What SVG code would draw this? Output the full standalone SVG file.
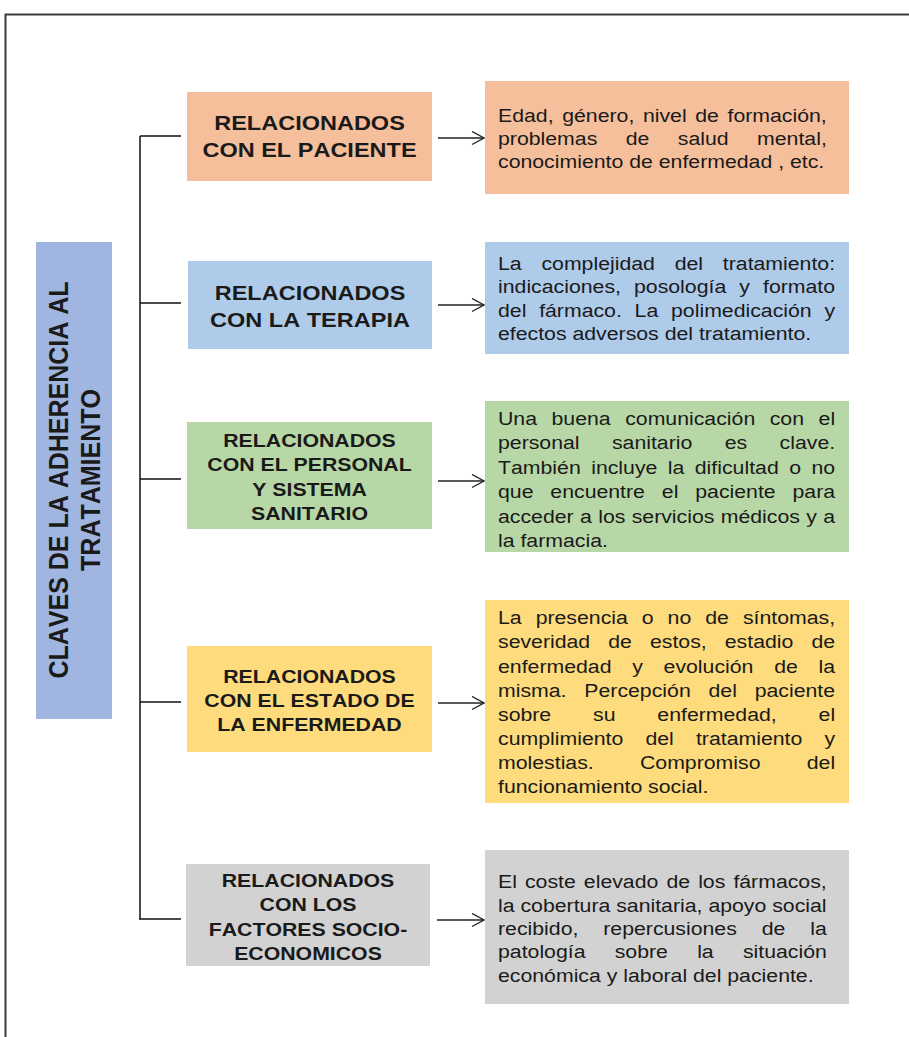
<svg xmlns="http://www.w3.org/2000/svg" width="909" height="1037" viewBox="0 0 909 1037">
<style>
text{font-family:"Liberation Sans",Arial,sans-serif;fill:#1a1a1a;font-kerning:none;font-variant-ligatures:none}
.title{font-size:25px;font-weight:bold;text-anchor:middle}
.h21{font-size:21px;font-weight:bold;text-anchor:middle}
.h19{font-size:19px;font-weight:bold;text-anchor:middle}
.body{font-size:19px}
.conn{fill:none;stroke:#111;stroke-width:1.5}
.arrow{fill:none;stroke:#222;stroke-width:1.4}
</style>
<defs>
<marker id="chev" markerUnits="userSpaceOnUse" markerWidth="16" markerHeight="16" refX="13" refY="7" orient="auto">
<path d="M1,0.5 L13,7 L1,13.5" fill="none" stroke="#222" stroke-width="1.4"/>
</marker>
</defs>
<rect width="909" height="1037" fill="#ffffff"/>
<path d="M5.5,1037 V14.5 H909" fill="none" stroke="#3a3a3a" stroke-width="2"/>

<g id="titulo">
<rect x="36" y="242" width="76" height="477" fill="#a0b6e0"/>
<g transform="translate(74,480) scale(1.12,1) rotate(-90)">
<text class="title"><tspan x="0" y="-5.4">CLAVES DE LA ADHERENCIA AL</tspan><tspan x="0" y="23.2">TRATAMIENTO</tspan></text>
</g>
</g>

<g id="conectores">
<path class="conn" d="M140,136 V919" stroke-width="2"/>
<path class="conn" d="M140,136 H181 M140,303 H181 M140,479 H181 M140,702 H181 M139,919 H181"/>
<path class="arrow" d="M438,138 H484" marker-end="url(#chev)"/>
<path class="arrow" d="M438,305 H484" marker-end="url(#chev)"/>
<path class="arrow" d="M438,481 H484" marker-end="url(#chev)"/>
<path class="arrow" d="M438,703 H484" marker-end="url(#chev)"/>
<path class="arrow" d="M437,920 H484" marker-end="url(#chev)"/>
</g>

<g id="paciente">
<rect x="187" y="92" width="245" height="89" fill="#f6bf9b"/>
<g transform="translate(309.5,0) scale(1.12,1)">
<text class="h21"><tspan x="0" y="130">RELACIONADOS</tspan><tspan x="0" y="157">CON EL PACIENTE</tspan></text>
</g>
</g>
<g id="detalle-paciente">
<rect x="485" y="81" width="364" height="113" fill="#f6bf9b"/>
<g transform="translate(498,0) scale(1.12,1)">
<text class="body"><tspan x="0" y="122" word-spacing="2.41">Edad, género, nivel de formación,</tspan><tspan x="0" y="145" word-spacing="20.12">problemas de salud mental,</tspan><tspan x="0" y="168">conocimiento de enfermedad , etc.</tspan></text>
</g>
</g>

<g id="terapia">
<rect x="188" y="261" width="244" height="88" fill="#aecbea"/>
<g transform="translate(310,0) scale(1.12,1)">
<text class="h21"><tspan x="0" y="300">RELACIONADOS</tspan><tspan x="0" y="327">CON LA TERAPIA</tspan></text>
</g>
</g>
<g id="detalle-terapia">
<rect x="485" y="242" width="364" height="112" fill="#aecbea"/>
<g transform="translate(498,0) scale(1.12,1)">
<text class="body"><tspan x="0" y="270" word-spacing="12.38">La complejidad del tratamiento:</tspan><tspan x="0" y="293.3" word-spacing="6.40">indicaciones, posología y formato</tspan><tspan x="0" y="316.7" word-spacing="6.12">del fármaco. La polimedicación y</tspan><tspan x="0" y="340">efectos adversos del tratamiento.</tspan></text>
</g>
</g>

<g id="personal">
<rect x="187" y="422" width="245" height="107" fill="#b8d7a6"/>
<g transform="translate(309.5,0) scale(1.12,1)">
<text class="h19"><tspan x="0" y="447">RELACIONADOS</tspan><tspan x="0" y="471.3">CON EL PERSONAL</tspan><tspan x="0" y="495.6">Y SISTEMA</tspan><tspan x="0" y="520">SANITARIO</tspan></text>
</g>
</g>
<g id="detalle-personal">
<rect x="485" y="401" width="364" height="151" fill="#b8d7a6"/>
<g transform="translate(498,0) scale(1.12,1)">
<text class="body"><tspan x="0" y="425" word-spacing="7.70">Una buena comunicación con el</tspan><tspan x="0" y="449.4" word-spacing="23.65">personal sanitario es clave.</tspan><tspan x="0" y="473.8" word-spacing="4.05">También incluye la dificultad o no</tspan><tspan x="0" y="498.2" word-spacing="9.80">que encuentre el paciente para</tspan><tspan x="0" y="522.6" word-spacing="0.39">acceder a los servicios médicos y a</tspan><tspan x="0" y="547">la farmacia.</tspan></text>
</g>
</g>

<g id="enfermedad">
<rect x="187" y="646" width="245" height="106" fill="#fedb7c"/>
<g transform="translate(309.5,0) scale(1.12,1)">
<text class="h19"><tspan x="0" y="682.7">RELACIONADOS</tspan><tspan x="0" y="706.7">CON EL ESTADO DE</tspan><tspan x="0" y="730.7">LA ENFERMEDAD</tspan></text>
</g>
</g>
<g id="detalle-enfermedad">
<rect x="485" y="600" width="364" height="203" fill="#fedb7c"/>
<g transform="translate(498,0) scale(1.12,1)">
<text class="body"><tspan x="0" y="624.3" word-spacing="7.21">La presencia o no de síntomas,</tspan><tspan x="0" y="648.4" word-spacing="10.86">severidad de estos, estadio de</tspan><tspan x="0" y="672.6" word-spacing="13.24">enfermedad y evolución de la</tspan><tspan x="0" y="696.7" word-spacing="10.63">misma. Percepción del paciente</tspan><tspan x="0" y="720.9" word-spacing="32.09">sobre su enfermedad, el</tspan><tspan x="0" y="745" word-spacing="14.50">cumplimiento del tratamiento y</tspan><tspan x="0" y="769.1" word-spacing="36.02">molestias. Compromiso del</tspan><tspan x="0" y="793.3">funcionamiento social.</tspan></text>
</g>
</g>

<g id="socioeconomicos">
<rect x="186" y="864" width="244" height="102" fill="#d2d2d2"/>
<g transform="translate(308,0) scale(1.12,1)">
<text class="h19"><tspan x="0" y="887">RELACIONADOS</tspan><tspan x="0" y="911.3">CON LOS</tspan><tspan x="0" y="935.6">FACTORES SOCIO-</tspan><tspan x="0" y="960">ECONOMICOS</tspan></text>
</g>
</g>
<g id="detalle-socioeconomicos">
<rect x="485" y="850" width="364" height="154" fill="#d2d2d2"/>
<g transform="translate(498,0) scale(1.12,1)">
<text class="body"><tspan x="0" y="888.3" word-spacing="1.93">El coste elevado de los fármacos,</tspan><tspan x="0" y="911.6" word-spacing="0">la cobertura sanitaria, apoyo social</tspan><tspan x="0" y="935" word-spacing="16.95">recibido, repercusiones de la</tspan><tspan x="0" y="958.3" word-spacing="20.82">patología sobre la situación</tspan><tspan x="0" y="981.7">económica y laboral del paciente.</tspan></text>
</g>
</g>
</svg>
